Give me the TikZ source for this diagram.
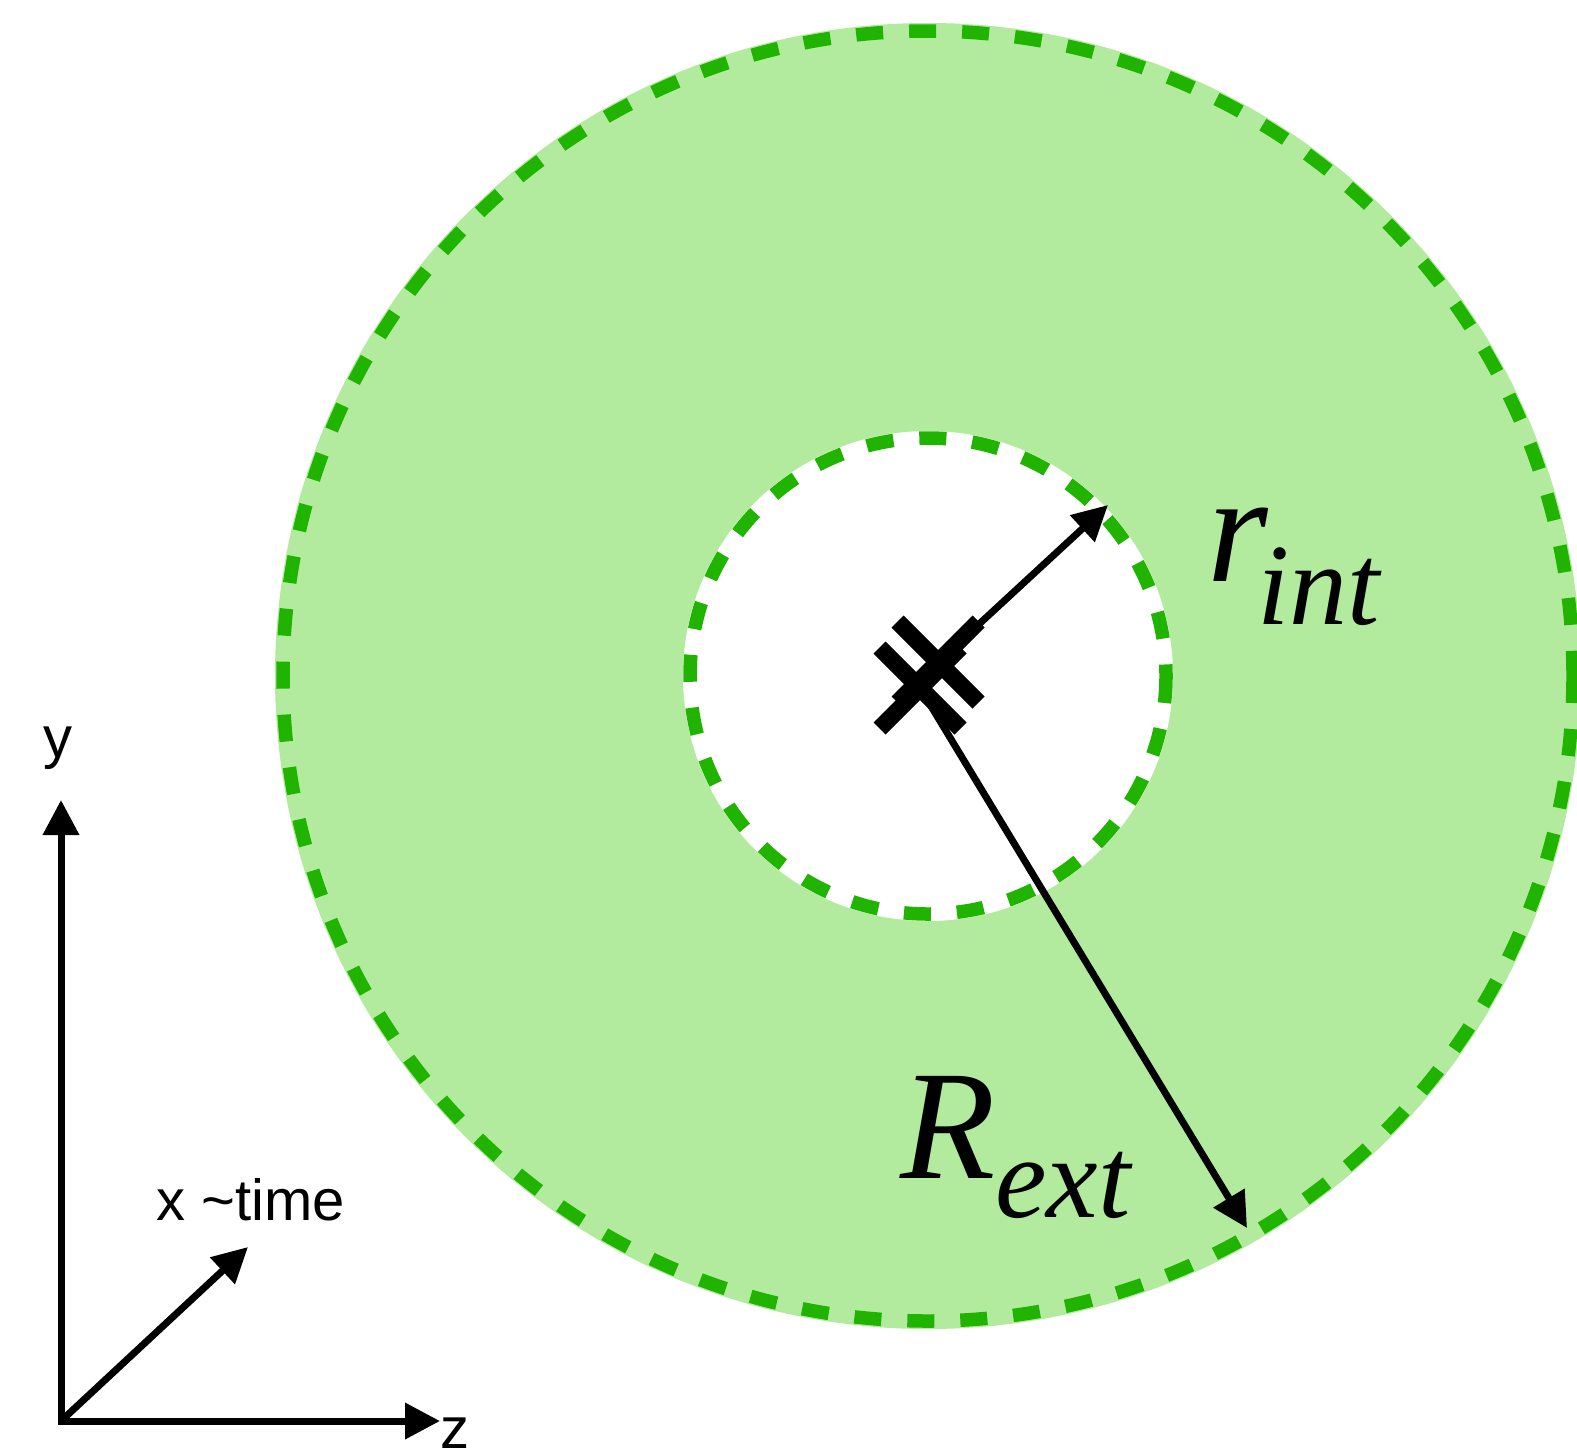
\documentclass[tikz,border=0pt]{standalone}
\usepackage{fontspec}
\setmainfont{Liberation Serif}
\setsansfont{Liberation Sans}
\usetikzlibrary{arrows.meta, shapes.misc}
\definecolor{ringfill}{RGB}{178,235,158}
\definecolor{ringdash}{RGB}{32,180,0}

\begin{document}
\begin{tikzpicture}[x=0.5pt, y=-0.5pt,
    ring/.style={draw=ringdash, line width=6.75pt, dash pattern=on 13.5pt off 13pt},
    arr/.style={line width=3.5pt, -{Triangle[width=17.5pt, length=17.5pt]}},
    centremark/.style={cross out, draw, line width=8.5pt, minimum size=32pt, inner sep=0pt},
    axislabel/.style={font=\sffamily\fontsize{29}{29}\selectfont, inner sep=0pt},
    radlabel/.style={font=\itshape\fontsize{78}{80}\selectfont, inner sep=0pt, anchor=base west},
    radsub/.style={font=\itshape\fontsize{58}{60}\selectfont, inner sep=0pt, anchor=base west}]
    \useasboundingbox (0,0) rectangle (1577,1451);
    % annulus
    \coordinate (c) at (928,676);
    \fill[ringfill] (c) circle[radius=653];
    \fill[white] (c) circle[radius=245];
    \draw[ring] (c) circle[radius=645];
    \draw[ring] (c) circle[radius=238];
    % centre marks and radii
    \node[centremark] (markA) at (938,662) {};
    \node[centremark] (markB) at (920,688) {};
    \coordinate (intend) at (1108,505);
    \coordinate (extend) at (1247,1228);
    \draw[arr] (markA.center) -- (intend);
    \draw[arr] (markB.center) -- (extend);
    \node[radlabel] (rint) at (1207,581) {r};
    \node[radsub] (rintsub) at (1257,624) {int};
    \node[radlabel] (rext) at (900,1178) {R};
    \node[radsub] (rextsub) at (995,1217) {ext};
    % axes
    \coordinate (origin) at (61,1421);
    \coordinate (ytip) at (61,800);
    \coordinate (ztip) at (440,1421);
    \coordinate (xtip) at (248,1247);
    \draw[arr, {Triangle[width=17.5pt, length=17.5pt]}-{Triangle[width=17.5pt, length=17.5pt]}] (ytip) -- (origin) -- (ztip);
    \draw[arr] (origin) -- (xtip);
    \node[axislabel, anchor=base] (ylab) at (58,757) {y};
    \node[axislabel, anchor=base west] (xlab) at (156,1220) {x \textasciitilde time};
    \node[axislabel, anchor=base west] (zlab) at (440,1448) {z};
\end{tikzpicture}
\end{document}
